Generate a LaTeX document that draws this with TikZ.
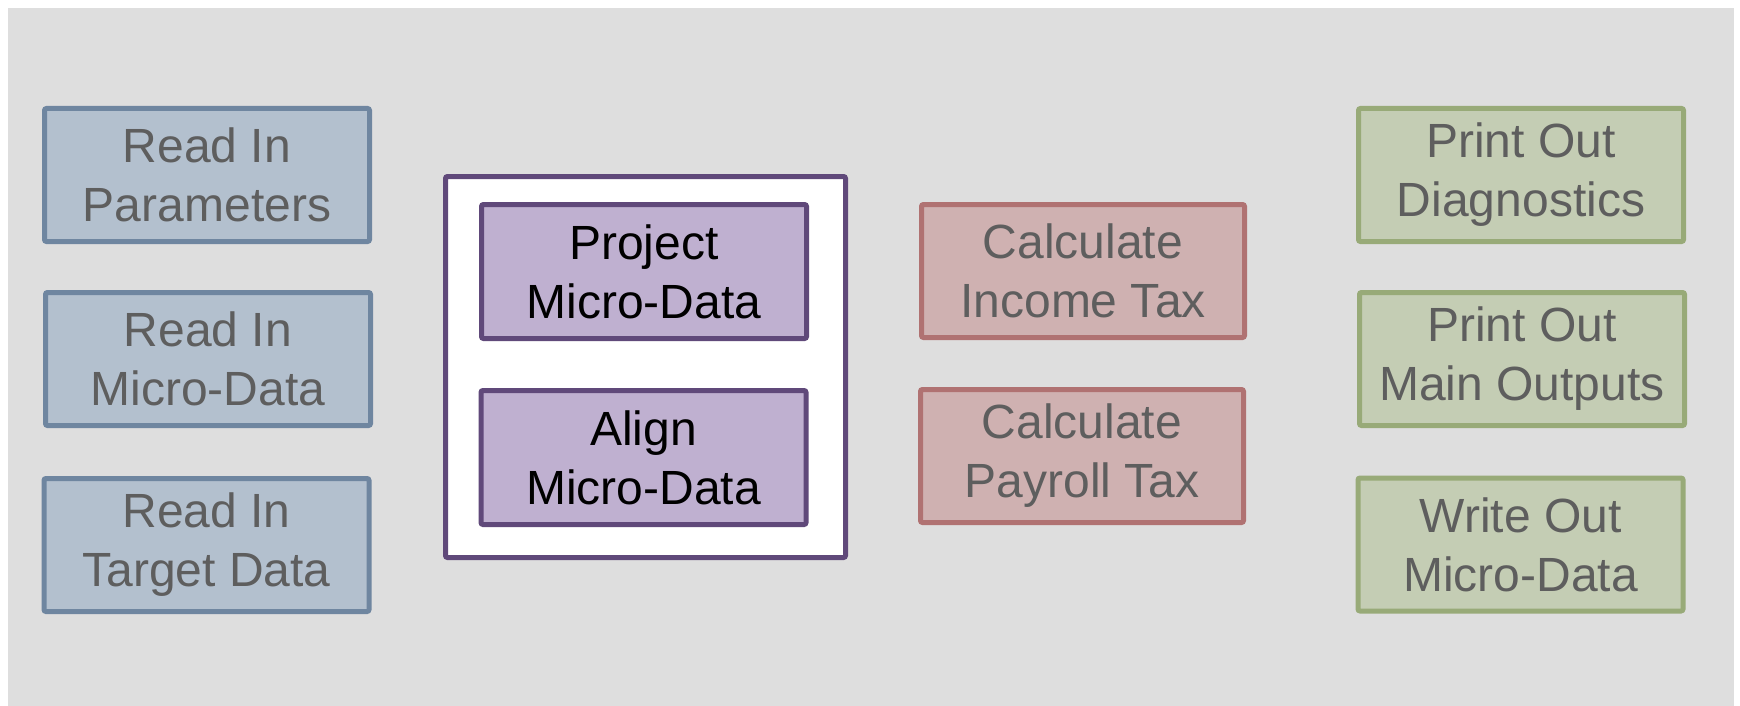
\documentclass[tikz,border=0pt]{standalone}
\usepackage{fontspec}
\setmainfont{Liberation Sans}
\definecolor{panelgray}{HTML}{DEDEDE}
\definecolor{labelgray}{HTML}{5E5E5E}
\definecolor{bluefill}{HTML}{B3C0CE}
\definecolor{blueline}{HTML}{6F86A0}
\definecolor{purplefill}{HTML}{BFB0D0}
\definecolor{purpleline}{HTML}{60497A}
\definecolor{redfill}{HTML}{CFB1B1}
\definecolor{redline}{HTML}{B07272}
\definecolor{greenfill}{HTML}{C4CDB4}
\definecolor{greenline}{HTML}{98AA78}
\begin{document}
\begin{tikzpicture}[x=0.5pt,y=-0.5pt,
  stagebox/.style={draw, line width=2.5pt, rounded corners=1pt, align=center,
    inner sep=0pt, minimum width=162.5pt, minimum height=66.5pt,
    font=\fontsize{24}{29.5}\selectfont,
    execute at begin node={\rule{0pt}{20pt}}},
  inputbox/.style={stagebox, fill=bluefill, draw=blueline, text=labelgray},
  corebox/.style={stagebox, fill=purplefill, draw=purpleline, text=black, minimum height=67pt},
  taxbox/.style={stagebox, fill=redfill, draw=redline, text=labelgray, minimum width=161.5pt},
  outbox/.style={stagebox, fill=greenfill, draw=greenline, text=labelgray},
  groupbox/.style={draw=purpleline, fill=white, line width=2.5pt, rounded corners=1pt,
    inner sep=0pt, minimum width=200pt, minimum height=190.5pt}]
  % page and panel
  \fill[white] (0,0) rectangle (1740,706);
  \fill[panelgray] (8,8) rectangle (1734,706);
  \useasboundingbox (0,0) rectangle (1740,706);

  % input stages
  \node[inputbox] (params) at (207,175) {Read In\\Parameters};
  \node[inputbox] (micro)  at (208,359) {Read In\\Micro-Data};
  \node[inputbox] (target) at (206.5,545) {Read In\\Target Data};

  % micro-data preparation group
  \node[groupbox] (group) at (645.5,367) {};
  \node[corebox] (project) at (644,271.5) {Project\\Micro-Data};
  \node[corebox] (align)   at (643.5,457.5) {Align\\Micro-Data};

  % tax calculations
  \node[taxbox] (income)  at (1083,271) {Calculate\\Income Tax};
  \node[taxbox] (payroll) at (1082,456) {Calculate\\Payroll Tax};

  % output stages
  \node[outbox] (diag)    at (1521,175) {Print Out\\Diagnostics};
  \node[outbox] (mainout) at (1522,359) {Print Out\\Main Outputs};
  \node[outbox] (writeout) at (1520.5,544.5) {Write Out\\Micro-Data};
\end{tikzpicture}
\end{document}
